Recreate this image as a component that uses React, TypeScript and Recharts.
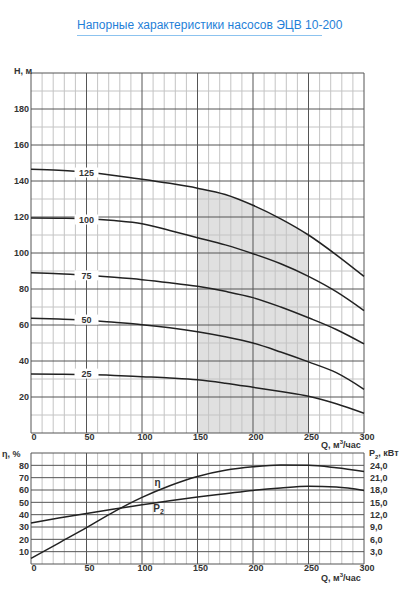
import {
  ComposedChart,
  Line,
  Area,
  XAxis,
  YAxis,
  ReferenceLine,
  ReferenceDot,
} from "recharts";

// flow rate, m3/h
const flow = [0, 25, 50, 75, 100, 125, 150, 175, 200, 225, 250, 275, 300];

// head curves by stage count
const head125 = [146.5, 146, 145, 143, 141, 138.7, 136, 132.5, 126.5, 119, 110, 99, 87];
const head100 = [119.5, 119.3, 119, 118, 116.3, 112.5, 108.5, 104.5, 99.6, 94, 87, 78.5, 68];
const head75 = [89, 88.5, 87.6, 86.5, 85.2, 83.5, 81.5, 78.7, 75.2, 70, 64, 57.5, 49.5];
const head50 = [63.7, 63.3, 62.7, 61.5, 60.2, 58.5, 56.3, 53.5, 50, 45, 39.5, 33.5, 24.3];
const head25 = [32.8, 32.7, 32.5, 32, 31.3, 30.6, 29.6, 27.7, 25.4, 23, 20.4, 16.3, 11];

const curveNames = ["125", "100", "75", "50", "25"];
const curveLabelY = [144.7, 118.6, 87.6, 63, 33];

// efficiency %, shaft power kW
const efficiency = [4.5, 17, 29.5, 42.5, 54, 63.5, 71, 76, 78.8, 80.2, 80, 78, 75];
const power = [10, 11.2, 12.3, 13.4, 14.4, 15.4, 16.3, 17.1, 17.9, 18.5, 18.9, 18.7, 17.9];

const flowTicks = [0, 50, 100, 150, 200, 250, 300];
const flowMinor = [10, 20, 30, 40, 60, 70, 80, 90, 110, 120, 130, 140, 160, 170, 180, 190, 210, 220, 230, 240, 260, 270, 280, 290];
const headTicks = [20, 40, 60, 80, 100, 120, 140, 160, 180];
const headMajor = [0, 20, 40, 60, 80, 100, 120, 140, 160, 180, 200];
const headMinor = [10, 30, 50, 70, 90, 110, 130, 150, 170, 190];
const etaTicks = [10, 20, 30, 40, 50, 60, 70, 80];
const etaLines = [0, 10, 20, 30, 40, 50, 60, 70, 80, 90];
const powerTicks = [3, 6, 9, 12, 15, 18, 21, 24];

const headData = flow.map((q, i) => ({
  q,
  h125: head125[i],
  h100: head100[i],
  h75: head75[i],
  h50: head50[i],
  h25: head25[i],
  work: q >= 150 && q <= 250 ? head125[i] : null,
}));

const effData = flow.map((q, i) => ({ q, eta: efficiency[i], p2: power[i] }));

const FONT = "'Liberation Sans', Arial, sans-serif";
const tickStyle = { fontSize: 9, fill: "#333", fontWeight: 700, fontFamily: FONT };
const MAJOR = "#555";
const MINOR = "#c4c4c4";

const smallText: React.CSSProperties = {
  position: "absolute",
  fontFamily: FONT,
  fontSize: 9,
  fontWeight: 700,
  color: "#333",
  whiteSpace: "nowrap",
};

function CurveTag({ cx, cy, text }: { cx?: number; cy?: number; text: string }) {
  if (cx == null || cy == null) return null;
  return (
    <g>
      <rect x={cx - 12} y={cy - 5} width={24} height={10} fill="#fff" />
      <text x={cx} y={cy + 3.5} textAnchor="middle" fontSize={9} fontWeight={700} fill="#333" fontFamily={FONT}>
        {text}
      </text>
    </g>
  );
}

function PlainTag({ cx, cy, text }: { cx?: number; cy?: number; text: React.ReactNode }) {
  if (cx == null || cy == null) return null;
  return (
    <text x={cx} y={cy + 3.5} textAnchor="middle" fontSize={10} fontWeight={700} fill="#333" fontFamily={FONT}>
      {text}
    </text>
  );
}

export default function App() {
  const headKeys = ["h125", "h100", "h75", "h50", "h25"];
  return (
    <div style={{ position: "absolute", left: 0, top: 0, width: 418, height: 600, background: "#fff" }}>
      <div
        style={{
          position: "absolute",
          left: 77,
          top: 18,
          width: 245,
          textAlign: "center",
          fontFamily: FONT,
          fontSize: 12,
          color: "#1f7fd8",
          paddingBottom: 3,
          borderBottom: "1.5px solid #8cc3ef",
          whiteSpace: "nowrap",
        }}
      >
        Напорные характеристики насосов ЭЦВ 10-200
      </div>

      <div style={{ position: "absolute", left: 0, top: 0 }}>
        <ComposedChart
          width={418}
          height={453}
          data={headData}
          margin={{ top: 73, right: 54, bottom: 0, left: 0 }}
        >
          <XAxis
            dataKey="q"
            type="number"
            domain={[0, 300]}
            ticks={flowTicks}
            axisLine={false}
            tickLine={false}
            tickSize={0}
            tickMargin={1}
            height={20}
            tick={tickStyle}
            dx={3}
            interval={0}
          />
          <YAxis
            type="number"
            domain={[0, 200]}
            ticks={headTicks}
            axisLine={false}
            tickLine={false}
            tickSize={0}
            tickMargin={2}
            width={31}
            tick={tickStyle}
            interval={0}
          />
          <Area
            dataKey="work"
            type="monotone"
            stroke="none"
            fill="#000"
            fillOpacity={0.12}
            isAnimationActive={false}
            connectNulls={false}
          />
          {flowMinor.map((v) => (
            <ReferenceLine key={"vx" + v} x={v} stroke={MINOR} strokeWidth={1} />
          ))}
          {headMinor.map((v) => (
            <ReferenceLine key={"hy" + v} y={v} stroke={MINOR} strokeWidth={1} />
          ))}
          {flowTicks.map((v) => (
            <ReferenceLine key={"VX" + v} x={v} stroke={MAJOR} strokeWidth={1} />
          ))}
          {headMajor.map((v) => (
            <ReferenceLine key={"HY" + v} y={v} stroke={MAJOR} strokeWidth={1} />
          ))}
          {headKeys.map((k) => (
            <Line
              key={k}
              dataKey={k}
              type="monotone"
              stroke="#222"
              strokeWidth={1.5}
              dot={false}
              isAnimationActive={false}
            />
          ))}
          {curveNames.map((n, i) => (
            <ReferenceDot
              key={"tag" + n}
              x={50}
              y={curveLabelY[i]}
              r={0}
              shape={(p: any) => <CurveTag cx={p.cx} cy={p.cy} text={n} />}
            />
          ))}
        </ComposedChart>
      </div>

      <div style={{ position: "absolute", left: 0, top: 440 }}>
        <ComposedChart
          width={418}
          height={144}
          data={effData}
          margin={{ top: 13, right: 0, bottom: 0, left: 0 }}
        >
          <XAxis
            dataKey="q"
            type="number"
            domain={[0, 300]}
            ticks={flowTicks}
            axisLine={false}
            tickLine={false}
            tickSize={0}
            tickMargin={1}
            height={20}
            tick={tickStyle}
            dx={3}
            interval={0}
          />
          <YAxis
            yAxisId="eta"
            type="number"
            domain={[0, 90]}
            ticks={etaTicks}
            axisLine={false}
            tickLine={false}
            tickSize={0}
            tickMargin={2}
            width={31}
            tick={tickStyle}
            interval={0}
          />
          <YAxis
            yAxisId="p2"
            orientation="right"
            type="number"
            domain={[0, 27]}
            ticks={powerTicks}
            axisLine={false}
            tickLine={false}
            tickSize={0}
            tickMargin={6}
            width={54}
            tick={tickStyle}
            tickFormatter={(v: number) => v.toFixed(1).replace(".", ",")}
            interval={0}
          />
          {flowMinor.map((v) => (
            <ReferenceLine key={"vx" + v} yAxisId="eta" x={v} stroke={MINOR} strokeWidth={1} />
          ))}
          {flowTicks.map((v) => (
            <ReferenceLine key={"VX" + v} yAxisId="eta" x={v} stroke={MAJOR} strokeWidth={1} />
          ))}
          {etaLines.map((v) => (
            <ReferenceLine key={"HY" + v} yAxisId="eta" y={v} stroke={MAJOR} strokeWidth={1} />
          ))}
          <Line
            yAxisId="eta"
            dataKey="eta"
            type="monotone"
            stroke="#222"
            strokeWidth={1.5}
            dot={false}
            isAnimationActive={false}
          />
          <Line
            yAxisId="p2"
            dataKey="p2"
            type="monotone"
            stroke="#222"
            strokeWidth={1.5}
            dot={false}
            isAnimationActive={false}
          />
          <ReferenceDot
            yAxisId="eta"
            x={114}
            y={66}
            r={0}
            shape={(p: any) => <PlainTag cx={p.cx} cy={p.cy} text="η" />}
          />
          <ReferenceDot
            yAxisId="eta"
            x={115}
            y={45}
            r={0}
            shape={(p: any) => (
              <PlainTag
                cx={p.cx}
                cy={p.cy}
                text={
                  <>
                    P<tspan fontSize={7} dy={2}>2</tspan>
                  </>
                }
              />
            )}
          />
        </ComposedChart>
      </div>

      <div style={{ ...smallText, left: 14, top: 66 }}>H, м</div>
      <div style={{ ...smallText, left: 321, top: 439 }}>
        Q, м<sup style={{ fontSize: 6 }}>3</sup>/час
      </div>
      <div style={{ ...smallText, left: 2, top: 449 }}>η, %</div>
      <div style={{ ...smallText, left: 369, top: 448 }}>
        P<sub style={{ fontSize: 6 }}>2</sub>, кВт
      </div>
      <div style={{ ...smallText, left: 321, top: 572 }}>
        Q, м<sup style={{ fontSize: 6 }}>3</sup>/час
      </div>
    </div>
  );
}
